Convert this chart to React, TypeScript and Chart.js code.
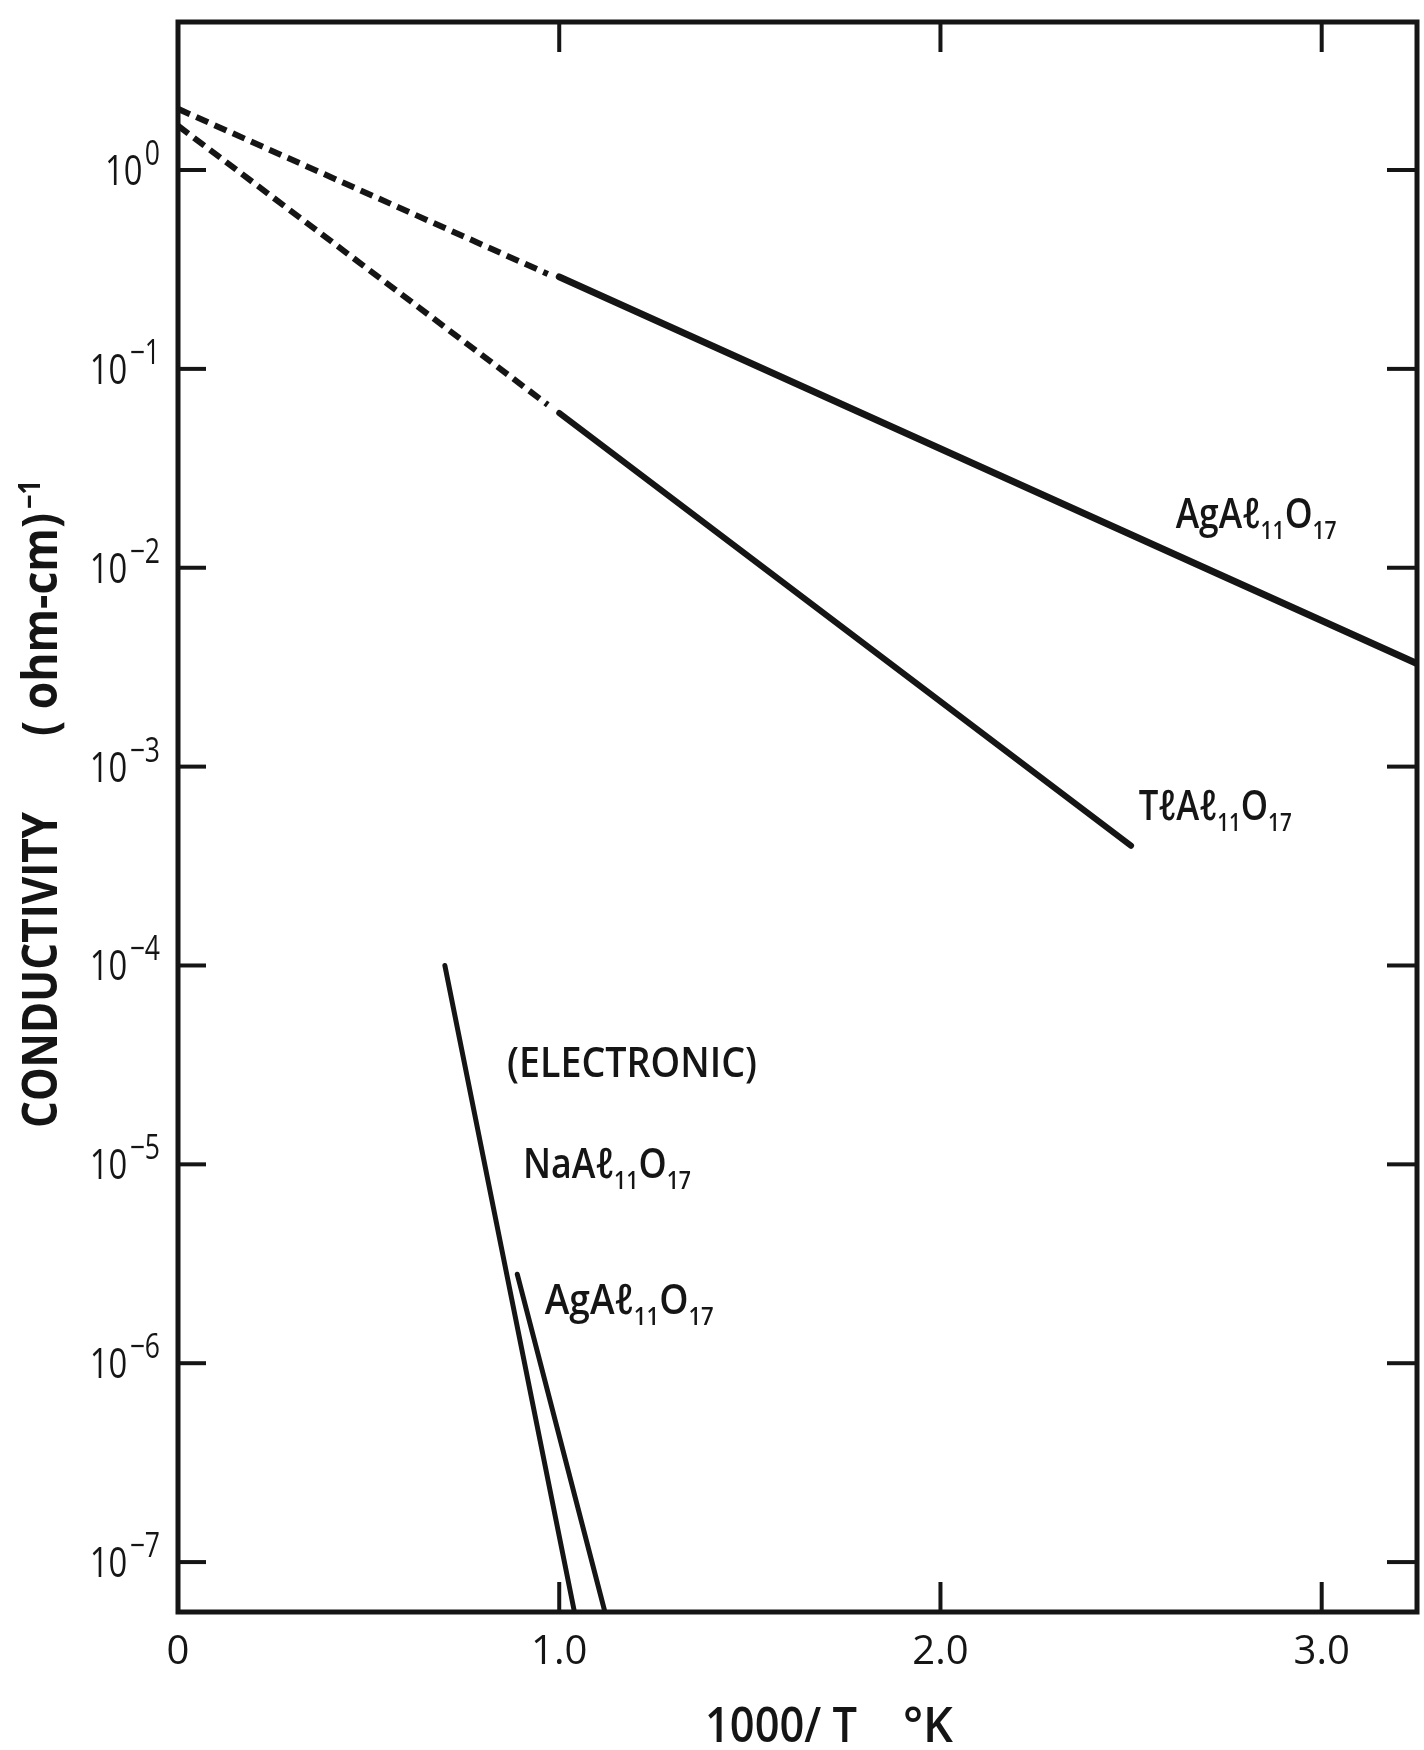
import React, { useEffect, useRef } from 'react';
import { Chart, registerables } from 'chart.js';

Chart.register(...registerables);

// ---- axis ticks ----
const xTickValues = [0, 1, 2, 3];
const xTickLabels = ['0', '1.0', '2.0', '3.0'];
const yTickValues = [1, 1e-1, 1e-2, 1e-3, 1e-4, 1e-5, 1e-6, 1e-7];
const yTickExponents = ['0', '−1', '−2', '−3', '−4', '−5', '−6', '−7'];

// ---- series (x = 1000/T, y = conductivity) ----
const agIonicExtrapX = [0, 0.97];
const agIonicExtrapY = [2.03, 0.3];
const agIonicX = [1.0, 3.25];
const agIonicY = [0.29, 0.0033];

const tlIonicExtrapX = [0, 0.97];
const tlIonicExtrapY = [1.67, 0.066];
const tlIonicX = [1.0, 2.5];
const tlIonicY = [0.06, 0.0004];

const naElectronicX = [0.7, 1.04];
const naElectronicY = [1.0e-4, 5.6e-8];

const agElectronicX = [0.89, 1.12];
const agElectronicY = [2.8e-6, 5.6e-8];

// ---- curve labels (anchor in data coordinates) ----
const labelNames = ['AgAℓ|11|O|17', 'TℓAℓ|11|O|17', '(ELECTRONIC)', 'NaAℓ|11|O|17', 'AgAℓ|11|O|17'];
const labelX = [2.617, 2.52, 0.863, 0.905, 0.962];
const labelY = [0.01585, 5.4e-4, 2.75e-5, 8.55e-6, 1.77e-6];
const labelWidths = [161, 153, 250, 168, 169];

const X_MIN = 0;
const X_MAX = 3.25;
const Y_MIN = 5.61e-8;
const Y_MAX = 5.55;

const INK = '#151515';
const FONT = '"Open Sans", "DejaVu Sans", sans-serif';

type Part = { t: string; size: number; dy: number };

function drawRich(ctx: CanvasRenderingContext2D, x: number, y: number, parts: Part[], targetWidth: number, weight: number) {
  let natural = 0;
  const widths: number[] = [];
  parts.forEach((p) => {
    ctx.font = `${weight} ${p.size}px ${FONT}`;
    const w = ctx.measureText(p.t).width;
    widths.push(w);
    natural += w;
  });
  const sx = targetWidth / natural;
  ctx.save();
  ctx.translate(x, y);
  ctx.scale(sx, 1);
  let cx = 0;
  parts.forEach((p, i) => {
    ctx.font = `${weight} ${p.size}px ${FONT}`;
    ctx.fillText(p.t, cx, p.dy);
    cx += widths[i];
  });
  ctx.restore();
}

function formulaParts(spec: string): Part[] {
  const segs = spec.split('|');
  return segs.map((s, i) => (i % 2 === 1 ? { t: s, size: 25, dy: 11 } : { t: s, size: 42, dy: 0 }));
}

export default function App() {
  const ref = useRef<HTMLCanvasElement>(null);

  useEffect(() => {
    const canvas = ref.current;
    if (!canvas) return;
    const pts = (xs: number[], ys: number[]) => xs.map((x, i) => ({ x, y: ys[i] }));

    const decorPlugin = {
      id: 'decor',
      afterDatasetsDraw(chart: any) {
        const { ctx, chartArea: a, scales } = chart;
        const xs = scales.x;
        const ys = scales.y;
        ctx.save();
        ctx.strokeStyle = INK;
        ctx.fillStyle = INK;
        const line = (x1: number, y1: number, x2: number, y2: number) => {
          ctx.beginPath();
          ctx.moveTo(x1, y1);
          ctx.lineTo(x2, y2);
          ctx.stroke();
        };
        // frame
        ctx.lineWidth = 5;
        ctx.lineJoin = 'miter';
        ctx.strokeRect(a.left, a.top, a.right - a.left, a.bottom - a.top);
        // inward ticks
        ctx.lineWidth = 4;
        ys.ticks.forEach((t: any) => {
          const py = ys.getPixelForValue(t.value);
          line(a.left, py, a.left + 28, py);
          line(a.right - 30, py, a.right, py);
        });
        xs.ticks.forEach((t: any) => {
          if (t.value === 0) return;
          const px = xs.getPixelForValue(t.value);
          line(px, a.bottom, px, a.bottom - 30);
          line(px, a.top, px, a.top + 30);
        });

        ctx.textBaseline = 'alphabetic';
        ctx.textAlign = 'left';
        // y tick labels 10^n
        const sx = 0.78;
        ys.ticks.forEach((t: any) => {
          const idx = yTickValues.indexOf(t.value);
          if (idx < 0) return;
          const py = ys.getPixelForValue(t.value);
          ctx.font = `400 42px ${FONT}`;
          const wMain = ctx.measureText('10').width;
          ctx.font = `400 34px ${FONT}`;
          const wSup = ctx.measureText(yTickExponents[idx]).width;
          const total = (wMain + 3 + wSup) * sx;
          const right = a.left - 18;
          ctx.save();
          ctx.translate(right - total, 0);
          ctx.scale(sx, 1);
          ctx.font = `400 42px ${FONT}`;
          ctx.fillText('10', 0, py + 15);
          ctx.font = `400 34px ${FONT}`;
          ctx.fillText(yTickExponents[idx], wMain + 3, py - 5);
          ctx.restore();
        });
        // x tick labels
        ctx.textAlign = 'center';
        ctx.font = `400 40px ${FONT}`;
        xs.ticks.forEach((t: any) => {
          const idx = xTickValues.indexOf(t.value);
          if (idx < 0) return;
          const px = xs.getPixelForValue(t.value);
          ctx.fillText(xTickLabels[idx], px, a.bottom + 52);
        });
        ctx.textAlign = 'left';

        // curve labels
        labelNames.forEach((name, i) => {
          const px = xs.getPixelForValue(labelX[i]);
          const py = ys.getPixelForValue(labelY[i]);
          drawRich(ctx, px, py, formulaParts(name), labelWidths[i], 600);
        });

        // x axis title
        drawRich(ctx, 705, 1742, [{ t: '1000/ T', size: 48, dy: 0 }], 152, 600);
        drawRich(ctx, 903, 1742, [{ t: '°K', size: 48, dy: 0 }], 50, 600);

        // y axis title (rotated)
        ctx.save();
        ctx.translate(57, 1128);
        ctx.rotate(-Math.PI / 2);
        drawRich(ctx, 0, 0, [{ t: 'CONDUCTIVITY', size: 48, dy: 0 }], 316, 700);
        drawRich(ctx, 392, 0, [{ t: '( ohm-cm)', size: 48, dy: 0 }], 223, 700);
        drawRich(ctx, 619, -17, [{ t: '−1', size: 30, dy: 0 }], 29, 700);
        ctx.restore();

        ctx.restore();
      },
    };

    const chart = new Chart(canvas, {
      type: 'line',
      data: {
        datasets: [
          { label: 'AgAl11O17 extrapolated', data: pts(agIonicExtrapX, agIonicExtrapY), borderColor: INK, borderWidth: 6, borderDash: [13, 7] },
          { label: 'AgAl11O17', data: pts(agIonicX, agIonicY), borderColor: INK, borderWidth: 7, borderCapStyle: 'round' },
          { label: 'TlAl11O17 extrapolated', data: pts(tlIonicExtrapX, tlIonicExtrapY), borderColor: INK, borderWidth: 6, borderDash: [13, 7] },
          { label: 'TlAl11O17', data: pts(tlIonicX, tlIonicY), borderColor: INK, borderWidth: 6, borderCapStyle: 'round' },
          { label: 'NaAl11O17 (electronic)', data: pts(naElectronicX, naElectronicY), borderColor: INK, borderWidth: 5, borderCapStyle: 'round' },
          { label: 'AgAl11O17 (electronic)', data: pts(agElectronicX, agElectronicY), borderColor: INK, borderWidth: 5, borderCapStyle: 'round' },
        ] as any,
      },
      options: {
        animation: false,
        responsive: false,
        devicePixelRatio: 1,
        parsing: false as any,
        layout: { padding: { left: 0, top: 22, right: 7, bottom: 0 } },
        elements: { point: { radius: 0, hoverRadius: 0 }, line: { tension: 0 } },
        plugins: { legend: { display: false }, tooltip: { enabled: false } },
        events: [],
        scales: {
          x: {
            type: 'linear',
            min: X_MIN,
            max: X_MAX,
            grid: { display: false, drawTicks: false },
            border: { display: false },
            ticks: { display: false },
            afterBuildTicks: (s: any) => {
              s.ticks = xTickValues.map((v) => ({ value: v }));
            },
            afterFit: (s: any) => {
              s.height = 138;
            },
          },
          y: {
            type: 'logarithmic',
            min: Y_MIN,
            max: Y_MAX,
            grid: { display: false, drawTicks: false },
            border: { display: false },
            ticks: { display: false },
            afterBuildTicks: (s: any) => {
              s.ticks = yTickValues.map((v) => ({ value: v }));
            },
            afterFit: (s: any) => {
              s.width = 178;
            },
          },
        } as any,
      },
      plugins: [decorPlugin],
    });
    return () => chart.destroy();
  }, []);

  return (
    <div style={{ position: 'absolute', left: 0, top: 0, width: 1424, height: 1750, background: '#fff' }}>
      <canvas ref={ref} width={1424} height={1750} style={{ width: 1424, height: 1750, display: 'block' }} />
    </div>
  );
}
